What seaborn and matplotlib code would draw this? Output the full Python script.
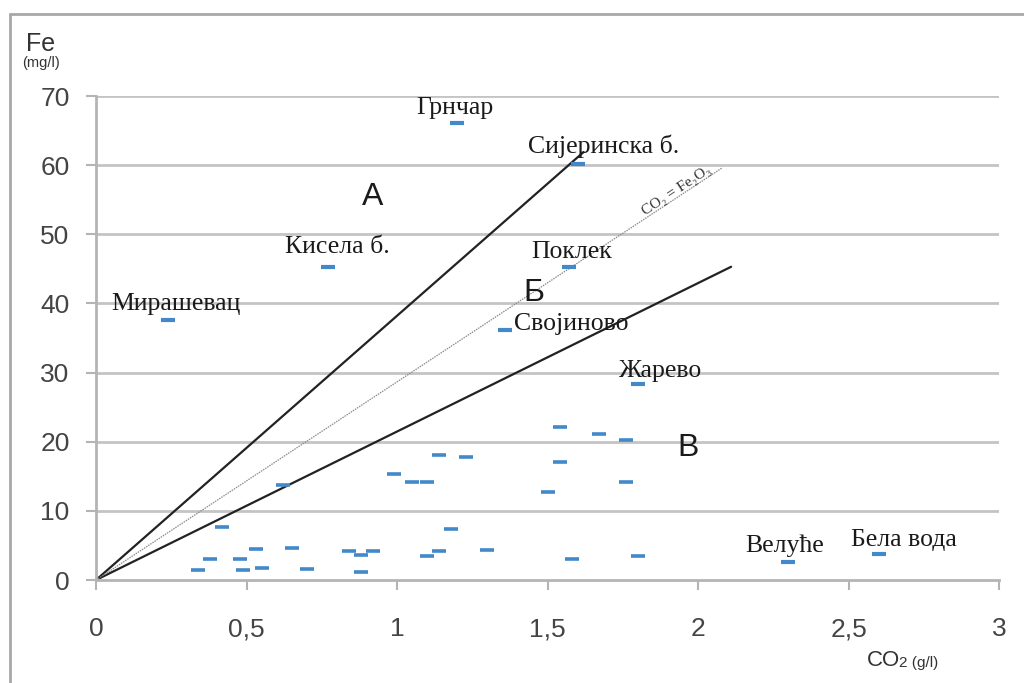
import matplotlib
matplotlib.use("Agg")
import matplotlib.pyplot as plt
import seaborn as sns
import numpy as np
import pandas as pd
from matplotlib.lines import Line2D

# ---------------- data ----------------
site_names = ["Грнчар", "Сијеринска б.", "Кисела б.", "Поклек", "Мирашевац",
              "Својиново", "Жарево", "Велуће", "Бела вода"]
site_co2 = [1.20, 1.60, 0.77, 1.57, 0.24, 1.36, 1.80, 2.30, 2.60]
site_fe = [66.1, 60.2, 45.2, 45.2, 37.6, 36.2, 28.4, 2.6, 3.8]

other_co2 = [1.14, 1.23, 0.99, 1.05, 1.10, 0.62, 0.42, 1.18, 0.53, 0.65,
             0.38, 0.48, 0.34, 0.49, 0.55, 0.70, 0.84, 0.88, 0.92, 0.88,
             1.10, 1.14, 1.30, 1.54, 1.67, 1.76, 1.54, 1.50, 1.76, 1.58, 1.80]
other_fe = [18.1, 17.8, 15.3, 14.2, 14.2, 13.7, 7.7, 7.4, 4.5, 4.7,
            3.0, 3.0, 1.4, 1.4, 1.7, 1.6, 4.2, 3.6, 4.2, 1.2,
            3.5, 4.2, 4.3, 22.1, 21.1, 20.3, 17.1, 12.7, 14.2, 3.0, 3.5]

# boundary lines from the origin (x, y of the far end)
line_upper = ([0, 1.62], [0, 61.9])
line_lower = ([0, 2.11], [0, 45.3])
line_ratio = ([0, 2.08], [0, 59.6])

zone_labels = ["А", "Б", "В"]
zone_x = [0.92, 1.455, 1.967]
zone_y = [55.4, 41.5, 19.1]

x_ticks = [0, 0.5, 1, 1.5, 2, 2.5, 3]
x_tick_labels = ["0", "0,5", "1", "1,5", "2", "2,5", "3"]
y_ticks = [0, 10, 20, 30, 40, 50, 60, 70]

# ---------------- figure ----------------
sns.set_theme(style="white")
plt.rcParams['font.family'] = ['Liberation Sans', 'DejaVu Sans']

fig = plt.figure(figsize=(10.24, 6.83), dpi=100)
ax = fig.add_axes([96/1024, 1-580/683, (999-96)/1024, (580-96)/683])

ax.set_xlim(0, 3)
ax.set_ylim(0, 70)

grid_c = "#c4c4c4"
for v in y_ticks[1:]:
    ax.axhline(v, color=grid_c, lw=2.0, zorder=0)

# lines
ax.plot(*line_upper, color="#222222", lw=1.6, zorder=2)
ax.plot(*line_lower, color="#222222", lw=1.6, zorder=2)
ax.plot(*line_ratio, color="#8a8a8a", lw=0.9, ls=(0, (1.2, 0.8)), zorder=2)

marker_c = "#4289c9"
df_sites = pd.DataFrame({"co2": site_co2, "fe": site_fe})
df_other = pd.DataFrame({"co2": other_co2, "fe": other_fe})
sns.scatterplot(data=df_sites, x="co2", y="fe", marker="_", s=110, linewidth=3.0,
                color=marker_c, ax=ax, zorder=3)
sns.scatterplot(data=df_other, x="co2", y="fe", marker="_", s=100, linewidth=2.6,
                color=marker_c, ax=ax, zorder=3)

# site labels (offsets in pixels: right, up)
offsets = {
    "Грнчар": (-2, 15, "center"),
    "Сијеринска б.": (26, 18, "center"),
    "Кисела б.": (10, 20, "center"),
    "Поклек": (3, 15, "center"),
    "Мирашевац": (8, 16, "center"),
    "Својиново": (9, 6, "left"),
    "Жарево": (23, 13, "center"),
    "Велуће": (-4, 16, "center"),
    "Бела вода": (25, 14, "center"),
}
for name, x, y in zip(site_names, site_co2, site_fe):
    dx, dy, ha = offsets[name]
    ax.annotate(name, (x, y), xytext=(dx, dy), textcoords="offset pixels",
                ha=ha, va="center", fontsize=18.5, color="#1a1a1a",
                family=["Liberation Serif", "DejaVu Serif"], zorder=4)

for lab, x, y in zip(zone_labels, zone_x, zone_y):
    ax.text(x, y, lab, ha="center", va="center", fontsize=23, color="#1a1a1a",
            family=["Liberation Sans", "DejaVu Sans"], zorder=4)

# ratio line label
fig.canvas.draw()
p0 = ax.transData.transform((line_ratio[0][0], line_ratio[1][0]))
p1 = ax.transData.transform((line_ratio[0][1], line_ratio[1][1]))
ang = np.degrees(np.arctan2(p1[1]-p0[1], p1[0]-p0[0]))
lx = 1.94
ly = line_ratio[1][1] / line_ratio[0][1] * lx
ax.text(lx, ly, "CO₂ = Fe₂O₃", rotation=ang, rotation_mode="anchor",
        ha="center", va="bottom", fontsize=11, color="#333333",
        family=["Liberation Serif", "DejaVu Serif"], zorder=4)

# axes styling
for s in ["top", "right"]:
    ax.spines[s].set_visible(False)
for s in ["left", "bottom"]:
    ax.spines[s].set_color("#b4b4b4")
    ax.spines[s].set_linewidth(2.0)
ax.set_xticks(x_ticks)
ax.set_xticklabels(x_tick_labels)
ax.set_yticks(y_ticks)
ax.tick_params(axis="both", which="major", direction="out", length=7,
               width=1.5, color="#b4b4b4", labelsize=19, labelcolor="#444444",
               left=True, bottom=True)
ax.tick_params(axis="x", pad=20)
ax.tick_params(axis="y", pad=12)
ax.set_xlabel("")
ax.set_ylabel("")

# axis titles
fig.text(41/1024, 1-44/683, "Fe", ha="center", va="center", fontsize=18, color="#333333")
fig.text(41/1024, 1-63/683, "(mg/l)", ha="center", va="center", fontsize=10.5, color="#333333")
fig.text(867/1024, 1-660/683, "CO", ha="left", va="center", fontsize=16, color="#333333")
fig.text(899/1024, 1-663/683, "2 (g/l)", ha="left", va="center", fontsize=11, color="#333333")

# outer frame
fig.add_artist(Line2D([10/1024, 1], [1-14/683, 1-14/683], transform=fig.transFigure,
                      color="#a8a8a8", lw=2.0))
fig.add_artist(Line2D([10/1024, 10/1024], [0, 1-14/683], transform=fig.transFigure,
                      color="#a8a8a8", lw=2.0))

fig.savefig("out.png", dpi=100, facecolor="white")
